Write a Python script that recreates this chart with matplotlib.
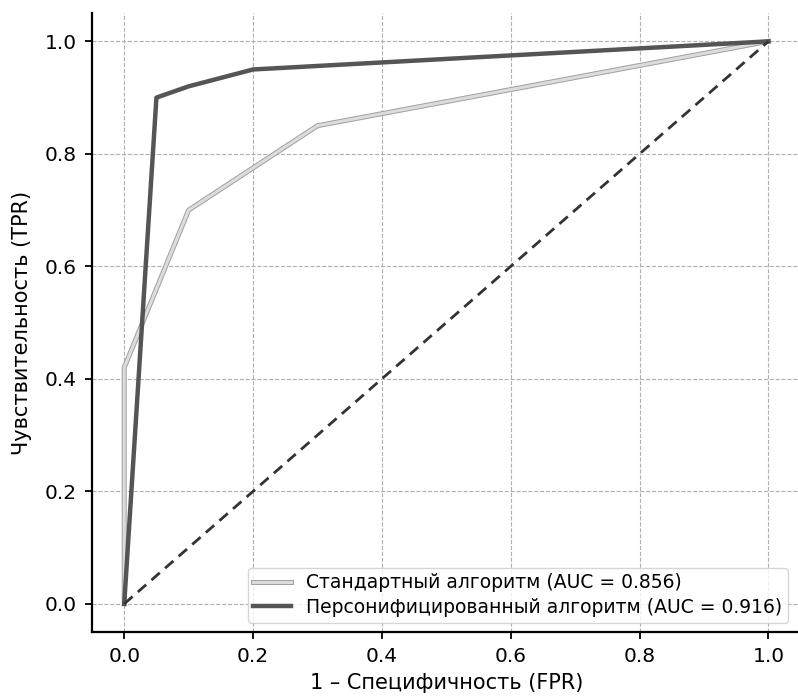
import matplotlib
matplotlib.use("Agg")
import matplotlib.pyplot as plt
import matplotlib.patheffects as pe

fpr_std = [0.0, 0.0, 0.1, 0.3, 1.0]
tpr_std = [0.0, 0.42, 0.70, 0.85, 1.0]
fpr_pers = [0.0, 0.05, 0.1, 0.2, 1.0]
tpr_pers = [0.0, 0.90, 0.92, 0.95, 1.0]
auc_std = 0.856
auc_pers = 0.916
ticks = [0.0, 0.2, 0.4, 0.6, 0.8, 1.0]

plt.rcParams['font.family'] = ['DejaVu Sans']
fig = plt.figure(figsize=(7.98, 6.96), dpi=100)
ax = fig.add_axes([0.1153, 0.092, 0.888, 0.889])

ax.plot(fpr_std, tpr_std, color='#dcdcdc', lw=2.2,
        path_effects=[pe.Stroke(linewidth=3.6, foreground='#a0a0a0'), pe.Normal()],
        label=f'Стандартный алгоритм (AUC = {auc_std:.3f})')
ax.plot(fpr_pers, tpr_pers, color='#555555', lw=3.2,
        label=f'Персонифицированный алгоритм (AUC = {auc_pers:.3f})')
ax.plot([0, 1], [0, 1], color='#333333', lw=2, ls=(0, (4, 2.5)))

ax.set_xlim(-0.05, 1.05)
ax.set_ylim(-0.05, 1.05)
ax.set_xticks(ticks)
ax.set_yticks(ticks)
ax.tick_params(labelsize=14.5, width=1.3, length=5, pad=6)
ax.grid(True, ls='--', color='#b0b0b0', lw=0.8)
for s in ['top', 'right']:
    ax.spines[s].set_visible(False)
for s in ['left', 'bottom']:
    ax.spines[s].set_linewidth(1.6)
ax.set_xlabel('1 – Специфичность (FPR)', fontsize=15, labelpad=5)
ax.set_ylabel('Чувствительность (TPR)', fontsize=15, labelpad=9)
leg = ax.legend(loc='lower right', fontsize=13.5, handlelength=2.0, borderpad=0.3,
                labelspacing=0.3, bbox_to_anchor=(0.995, 0.0))
leg.get_frame().set_edgecolor('#cccccc')

fig.savefig('out.png', dpi=100)
